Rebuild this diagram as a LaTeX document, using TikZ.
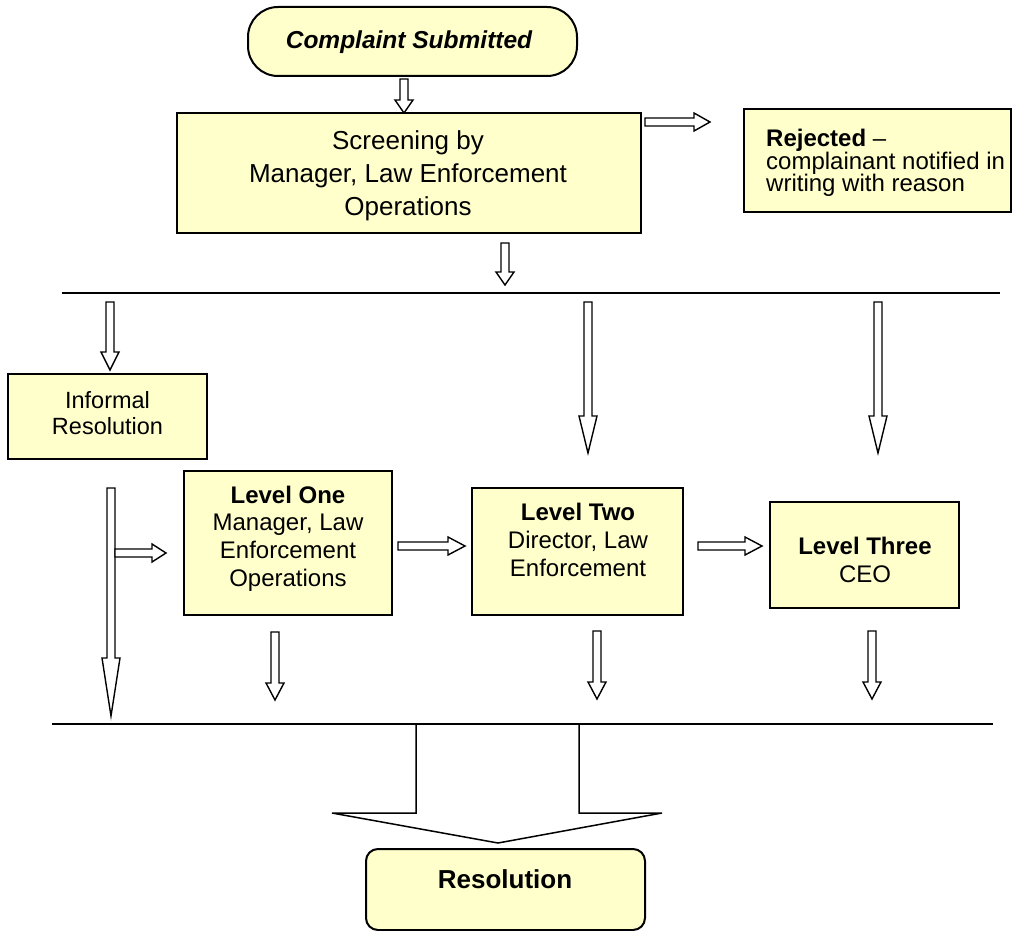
\documentclass[tikz,border=0pt]{standalone}
\usepackage{fontspec}
\setmainfont{Liberation Sans}
\definecolor{boxfill}{HTML}{FFFFCC}
\tikzset{
  box/.style={draw=black, line width=2pt, fill=boxfill, inner sep=0pt},
  txt/.style={inner sep=0pt, align=center, font=\fontsize{24}{27.6}\selectfont},
  barrow/.style={draw=black, line width=1.4pt, fill=white, line join=miter},
  rulel/.style={draw=black, line width=2.2pt},
}
% vertical block arrow: x, ytop, ytip, head length
\newcommand\DownBlk[4]{%
  \draw[barrow] (#1-4,#2) -- (#1+4,#2) -- (#1+4,#3-#4) -- (#1+9,#3-#4) -- (#1,#3)
    -- (#1-9,#3-#4) -- (#1-4,#3-#4) -- cycle;}
% horizontal block arrow: y, xstart, xtip, head length
\newcommand\RightBlk[4]{%
  \draw[barrow] (#2,#1-4) -- (#3-#4,#1-4) -- (#3-#4,#1-9) -- (#3,#1) -- (#3-#4,#1+9)
    -- (#3-#4,#1+4) -- (#2,#1+4) -- cycle;}
\begin{document}
\begin{tikzpicture}[x=1pt,y=-1pt]
\useasboundingbox (0,0) rectangle (1015,931);

% boxes
\node[box, rounded corners=30pt, minimum width=329pt, minimum height=69pt] (complaint) at (412.5,41.5) {};
\node[box, minimum width=464pt, minimum height=120pt] (screen) at (409,173) {};
\node[box, minimum width=267pt, minimum height=103pt] (reject) at (877.5,160.5) {};
\node[box, minimum width=199pt, minimum height=85pt] (informal) at (107.5,416.5) {};
\node[box, minimum width=208pt, minimum height=144pt] (lvlone) at (288,543) {};
\node[box, minimum width=211pt, minimum height=127pt] (lvltwo) at (577.5,551.5) {};
\node[box, minimum width=189pt, minimum height=106pt] (lvlthree) at (864.5,555) {};
\node[box, rounded corners=12pt, minimum width=279pt, minimum height=81pt] (resol) at (505.5,889.5) {};

% texts (anchor base = baseline of the last line)
\node[txt, anchor=base, font=\fontsize{24.5}{28}\selectfont\bfseries\itshape] (tcomplaint) at (409,49) {Complaint Submitted};
\node[txt, anchor=base, font=\fontsize{26}{33}\selectfont] (tscreen) at (408,215) {Screening by\\Manager, Law Enforcement\\Operations};
\begin{scope}
  \clip (744,100) rectangle (1011,196);
  \node[txt, anchor=base west, align=left, font=\fontsize{24}{23}\selectfont] (treject) at (766,192) {\textbf{Rejected} --\\complainant notified in\\writing with reason};
\end{scope}
\node[txt, anchor=base, font=\fontsize{23.5}{26}\selectfont] (tinformal) at (107.5,434) {Informal\\Resolution};
\node[txt, anchor=base] (tlvlone) at (288,586) {\textbf{Level One}\\Manager, Law\\Enforcement\\Operations};
\node[txt, anchor=base] (tlvltwo) at (578,576) {\textbf{Level Two}\\Director, Law\\Enforcement};
\node[txt, anchor=base, font=\fontsize{24}{28}\selectfont] (tlvlthree) at (865,582) {\textbf{Level Three}\\CEO};
\node[txt, anchor=base, font=\fontsize{26}{30}\selectfont\bfseries] (tresol) at (505,888) {Resolution};

% block arrows
\DownBlk{404}{79}{113}{13}
\RightBlk{122}{645}{710}{16}
\DownBlk{505}{243}{285}{13}
\DownBlk{110}{302}{370}{18}
\DownBlk{588}{302}{453}{37}
\DownBlk{878}{302}{453}{37}
\DownBlk{111}{488}{716}{58}
\RightBlk{553}{115}{166}{14}
\RightBlk{546}{398}{465}{17}
\RightBlk{546}{698}{762}{17}
\DownBlk{275}{632}{700}{17}
\DownBlk{597}{631}{699}{17}
\DownBlk{872}{631}{699}{17}

% large merge arrow
\draw[barrow, line width=1.5pt] (416,724) -- (416,813) -- (332,813) -- (498,843)
  -- (662,813) -- (579,813) -- (579,724);

% rules
\coordinate (r1a) at (62,293); \coordinate (r1b) at (1000,293);
\coordinate (r2a) at (52,724); \coordinate (r2b) at (993,724);
\draw[rulel] (r1a) -- (r1b);
\draw[rulel] (r2a) -- (r2b);
\end{tikzpicture}
\end{document}
